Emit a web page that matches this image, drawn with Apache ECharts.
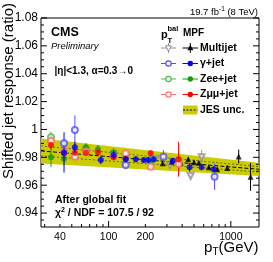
<!DOCTYPE html>
<html><head><meta charset="utf-8">
<script src="https://cdn.jsdelivr.net/npm/echarts@6/dist/echarts.min.js"></script>
<style>html,body{margin:0;padding:0;background:#fff}#c{width:273px;height:262px}</style>
</head><body><div id="c"></div>
<script>
// ---- axis ticks / labels ----
const xTickLabels = [40, 100, 200, 1000];
const xMajorTicks = [100, 1000];
const xMinorTicks = [30, 40, 50, 60, 70, 80, 90, 200, 300, 400, 500, 600, 700, 800, 900];
const yMajorTicks = [0.94, 0.96, 0.98, 1.00, 1.02, 1.04, 1.06, 1.08];
const yMinorTicks = [0.935, 0.945, 0.95, 0.955, 0.965, 0.97, 0.975, 0.985, 0.99, 0.995,
  1.005, 1.01, 1.015, 1.025, 1.03, 1.035, 1.045, 1.05, 1.055, 1.065, 1.07, 1.075];

// ---- JES uncertainty band ----
const jesPt = [28, 1700];
const jesCenter = [0.9846, 0.9714];
const jesHalf = [0.0090, 0.0048];

// ---- Multijet ----
const mjMpfPt  = [277, 328, 389, 448, 500, 548, 660, 774, 935, 1160, 1450];
const mjMpfVal = [0.9757, 0.9769, 0.9762, 0.9786, 0.9765, 0.9761, 0.9728, 0.9714, 0.9724, 0.9806, 0.9660];
const mjMpfErr = [0.0015, 0.0012, 0.0012, 0.0012, 0.0012, 0.0012, 0.0012, 0.0015, 0.0020, 0.0050, 0.0100];
const mjBalPt  = [240, 318, 469, 577];
const mjBalVal = [0.9790, 0.9745, 0.9666, 0.9801];
const mjBalErr = [0.0020, 0.0020, 0.0015, 0.0050];

// ---- gamma+jet ----
const gjMpfPt  = [43.2, 53, 86.5, 110, 138, 167, 194, 211, 234, 335, 460, 577, 722];
const gjMpfVal = [0.9835, 0.9872, 0.9781, 0.9817, 0.9786, 0.9786, 0.9781, 0.9781, 0.9786, 0.9776, 0.9728, 0.9728, 0.9714];
const gjMpfErr = [0.0145, 0.0040, 0.0030, 0.0030, 0.0020, 0.0020, 0.0020, 0.0020, 0.0020, 0.0020, 0.0030, 0.0020, 0.0020];
const gjBalPt  = [43.2, 53, 138, 281, 736];
const gjBalVal = [0.9901, 0.9996, 0.9745, 0.9805, 0.9661];
const gjBalErr = [0.0030, 0.0105, 0.0030, 0.0047, 0.0095];

// ---- Zee+jet ----
const zeeMpfPt  = [33.8, 43.2, 65.3, 81.8, 110, 221, 374];
const zeeMpfVal = [0.9800, 0.9790, 0.9872, 0.9858, 0.9835, 0.9769, 0.9760];
const zeeMpfErr = [0.0070, 0.0050, 0.0030, 0.0030, 0.0030, 0.0030, 0.0080];
const zeeBalPt  = [33.8, 53, 65.3, 110, 138, 221, 374];
const zeeBalVal = [0.9944, 0.9810, 0.9860, 0.9830, 0.9815, 0.9780, 0.9775];
const zeeBalErr = [0.0040, 0.0030, 0.0030, 0.0030, 0.0030, 0.0030, 0.0060];

// ---- Zmumu+jet ----
const zmmMpfPt  = [33.8, 43.2, 53, 65.3, 81.8, 110, 138, 221, 374];
const zmmMpfVal = [0.9888, 0.9829, 0.9833, 0.9833, 0.9835, 0.9800, 0.9790, 0.9829, 0.9786];
const zmmMpfErr = [0.0030, 0.0030, 0.0020, 0.0020, 0.0020, 0.0020, 0.0020, 0.0020, 0.0125];
const zmmBalPt  = [33.8, 43.2, 53, 65.3, 110, 138, 221, 374];
const zmmBalVal = [0.9919, 0.9840, 0.9805, 0.9840, 0.9810, 0.9829, 0.9733, 0.9752];
const zmmBalErr = [0.0030, 0.0030, 0.0020, 0.0020, 0.0020, 0.0020, 0.0020, 0.0040];

const FONT = '"Liberation Sans", Arial, Helvetica, sans-serif';
const chart = echarts.init(document.getElementById('c'), null, {renderer: 'canvas'});

function errSeries(pt, val, err, color, z) {
  return {
    type: 'custom', z: z, silent: true,
    data: pt.map((p, i) => [p, val[i], err[i]]),
    encode: {x: 0, y: 1},
    renderItem: (params, api) => {
      const a = api.coord([api.value(0), api.value(1) - api.value(2)]);
      const b = api.coord([api.value(0), api.value(1) + api.value(2)]);
      return {type: 'line', shape: {x1: a[0], y1: a[1], x2: b[0], y2: b[1]},
        style: {stroke: color, lineWidth: 1}};
    }
  };
}
function markSeries(pt, val, symbol, color, z, rot, size) {
  const open = symbol.indexOf('empty') === 0;
  return {
    type: 'scatter', z: z, silent: true,
    data: pt.map((p, i) => [p, val[i]]),
    symbol: symbol, symbolSize: size || 6, symbolRotate: rot || 0,
    itemStyle: open ? {color: color, borderColor: color, borderWidth: 1.2} : {color: color}
  };
}
function tickSeries(ticks, axis, len) {
  return {
    type: 'custom', z: 20, silent: true,
    data: ticks.map(t => axis === 'x' ? [t, 1.0] : [100, t]),
    encode: {x: 0, y: 1},
    renderItem: (params, api) => {
      const cs = params.coordSys;
      const p = api.coord([api.value(0), api.value(1)]);
      if (axis === 'x') {
        const yb = cs.y + cs.height;
        return {type: 'line', shape: {x1: p[0], y1: yb, x2: p[0], y2: yb - len}, style: {stroke: '#000', lineWidth: 1}};
      }
      const xl = cs.x, xr = cs.x + cs.width;
      return {type: 'group', children: [
        {type: 'line', shape: {x1: xl, y1: p[1], x2: xl + len, y2: p[1]}, style: {stroke: '#000', lineWidth: 1}},
        {type: 'line', shape: {x1: xr, y1: p[1], x2: xr - len, y2: p[1]}, style: {stroke: '#000', lineWidth: 1}}
      ]};
    }
  };
}
const xLabelSeries = {
  type: 'custom', z: 20, silent: true,
  data: xTickLabels.map(t => [t, 1.0]),
  encode: {x: 0, y: 1},
  renderItem: (params, api) => {
    const cs = params.coordSys;
    const p = api.coord([api.value(0), api.value(1)]);
    return {type: 'text', x: p[0], y: cs.y + cs.height + 10.5,
      style: {text: String(api.value(0)), font: '10.5px ' + FONT, fill: '#000',
        align: 'center', verticalAlign: 'middle', textAlign: 'center', textVerticalAlign: 'middle'}};
  }
};
const bandSeries = {
  type: 'custom', z: 1, silent: true,
  data: jesPt.map((p, i) => [p, jesCenter[i], jesHalf[i]]),
  encode: {x: 0, y: 1},
  renderItem: (params, api) => {
    if (params.dataIndex !== 0) return null;
    const up = [], dn = [], c = [], iu = [], id = [];
    for (let i = 0; i < jesPt.length; i++) {
      up.push(api.coord([jesPt[i], jesCenter[i] + jesHalf[i]]));
      dn.unshift(api.coord([jesPt[i], jesCenter[i] - jesHalf[i]]));
      c.push(api.coord([jesPt[i], jesCenter[i]]));
      iu.push(api.coord([jesPt[i], jesCenter[i] + 0.4 * jesHalf[i]]));
      id.push(api.coord([jesPt[i], jesCenter[i] - 0.4 * jesHalf[i]]));
    }
    return {type: 'group', children: [
      {type: 'polygon', shape: {points: up.concat(dn)}, style: {fill: '#cccc00'}},
      {type: 'polyline', shape: {points: iu}, style: {stroke: '#444', lineWidth: 0.8, lineDash: [2, 2], fill: null}},
      {type: 'polyline', shape: {points: id}, style: {stroke: '#444', lineWidth: 0.8, lineDash: [2, 2], fill: null}},
      {type: 'polyline', shape: {points: c}, style: {stroke: '#000', lineWidth: 1, lineDash: [4, 2], fill: null}}
    ]};
  }
};

const C = {
  mjBal: '#909090', mjMpf: '#000000',
  gjBal: '#5050ff', gjMpf: '#0000ff',
  zeeBal: '#50b850', zeeMpf: '#149a14',
  zmmBal: '#ff7070', zmmMpf: '#ff0000', band: '#cccc00'
};

function txt(text, x, y, font, align, extra) {
  return Object.assign({type: 'text', x: x, y: y, silent: true,
    style: {text: text, font: font, fill: '#000', textAlign: align || 'left', align: align || 'left',
      textVerticalAlign: 'middle', verticalAlign: 'middle'}}, extra || {});
}
function legLine(x1, x2, y, color, dash) {
  return {type: 'line', silent: true, shape: {x1: x1, y1: y, x2: x2, y2: y}, style: {stroke: color, lineWidth: 1, lineDash: dash || null}};
}
function legCircle(cx, cy, color, open) {
  return {type: 'circle', silent: true, shape: {cx: cx, cy: cy, r: 2.7},
    style: open ? {fill: '#fff', stroke: color, lineWidth: 1.2} : {fill: color}};
}
function legTri(cx, cy, color, down, open) {
  const s = down ? -1 : 1;
  return {type: 'polygon', silent: true, shape: {points: [[cx, cy - 3.2 * s], [cx - 3, cy + 2.2 * s], [cx + 3, cy + 2.2 * s]]},
    style: open ? {fill: '#fff', stroke: color, lineWidth: 1} : {fill: color}};
}

const legRows = [48, 63.5, 79, 94.5];
const legNames = ['Multijet', 'γ+jet', 'Zee+jet', 'Zμμ+jet'];
const legBal = [C.mjBal, C.gjBal, C.zeeBal, C.zmmBal];
const legMpf = [C.mjMpf, C.gjMpf, C.zeeMpf, C.zmmMpf];
const graphics = [];
legRows.forEach((y, i) => {
  graphics.push(legLine(161, 176, y, legBal[i]));
  graphics.push(legLine(182.5, 198, y, legMpf[i]));
  if (i === 0) {
    graphics.push(legLine(168.5, 168.5, y - 4, legBal[i])); graphics.push(legLine(168.5, 168.5, y + 4, legBal[i]));
    graphics.push({type:'line', silent:true, shape:{x1:168.5,y1:y-5,x2:168.5,y2:y+5}, style:{stroke:legBal[i],lineWidth:1}});
    graphics.push({type:'line', silent:true, shape:{x1:190.3,y1:y-5,x2:190.3,y2:y+5}, style:{stroke:legMpf[i],lineWidth:1}});
    graphics.push(legTri(168.5, y, legBal[i], true, true));
    graphics.push(legTri(190.3, y, legMpf[i], false, false));
  } else {
    graphics.push(legCircle(168.5, y, legBal[i], true));
    graphics.push(legCircle(190.3, y, legMpf[i], false));
  }
  graphics.push(txt(legNames[i], 200, y, 'bold 10.5px ' + FONT));
});
graphics.push({type: 'rect', silent: true, shape: {x: 183, y: 105.5, width: 14.5, height: 9}, style: {fill: C.band}});
graphics.push(legLine(183, 197.5, 110, '#000', [2, 1.5]));
graphics.push(txt('JES unc.', 200, 110, 'bold 10.5px ' + FONT));
// legend header
graphics.push(txt('p', 161, 35, 'bold 11px ' + FONT));
graphics.push(txt('bal', 167.5, 29, 'bold 7.5px ' + FONT));
graphics.push(txt('T', 167.5, 40.5, 'bold 7.5px ' + FONT));
graphics.push(txt('MPF', 183, 33, 'bold 10px ' + FONT));
// texts
graphics.push(txt('CMS', 51, 32.5, 'bold 12.5px ' + FONT));
graphics.push(txt('Preliminary', 51, 46, 'italic 9.5px ' + FONT));
graphics.push(txt('|η|<1.3, α=0.3→0', 54.5, 71, 'bold 10px ' + FONT));
graphics.push(txt('After global fit', 55, 200.5, 'bold 10.5px ' + FONT));
graphics.push({type: 'text', x: 55, y: 213.5, silent: true,
  style: {text: '{n|χ}{s|2}{n| / NDF = 107.5 / 92}', textVerticalAlign: 'middle', verticalAlign: 'middle',
    rich: {n: {font: 'bold 10.5px ' + FONT, fill: '#000', color: '#000'},
           s: {font: 'bold 7px ' + FONT, fill: '#000', color: '#000', padding: [0, 0, 6, 0]}}}});
// lumi
graphics.push({type: 'text', x: 258, y: 12, silent: true,
  style: {text: '{n|19.7 fb}{s|-1}{n| (8 TeV)}', textAlign: 'right', align: 'right', textVerticalAlign: 'middle', verticalAlign: 'middle',
    rich: {n: {font: '9.5px ' + FONT, fill: '#000', color: '#000'},
           s: {font: '6.5px ' + FONT, fill: '#000', color: '#000', padding: [0, 0, 6, 0]}}}});
// axis titles
graphics.push(txt('Shifted jet response (ratio)', 8.5, 3, '15px ' + FONT, 'right', {rotation: Math.PI / 2}));
graphics.push(txt('p', 204, 248, '15px ' + FONT));
graphics.push(txt('T', 212.5, 252.5, '10px ' + FONT));
graphics.push(txt('(GeV)', 258.5, 247.5, '15px ' + FONT, 'right'));

const option = {
  animation: false,
  backgroundColor: '#fff',
  grid: {left: 41, right: 14, top: 18, bottom: 35, show: true, borderColor: '#000', borderWidth: 1, backgroundColor: 'transparent'},
  xAxis: {type: 'log', logBase: 10, min: 28, max: 1700,
    axisLine: {show: false}, axisTick: {show: false}, axisLabel: {show: false}, splitLine: {show: false}},
  yAxis: {type: 'value', min: 0.93, max: 1.08, interval: 0.01,
    axisLine: {show: false}, axisTick: {show: false}, splitLine: {show: false},
    axisLabel: {margin: 3, fontSize: 12, fontFamily: FONT, color: '#000',
      formatter: v => { const k = Math.round(v * 100); if (k % 2 !== 0) return ''; return k === 100 ? '1' : (k / 100).toFixed(2); }}},
  graphic: graphics,
  series: [
    bandSeries,
    errSeries(mjBalPt, mjBalVal, mjBalErr, C.mjBal, 3), markSeries(mjBalPt, mjBalVal, 'emptyTriangle', C.mjBal, 4, 180, 6),
    errSeries(mjMpfPt, mjMpfVal, mjMpfErr, C.mjMpf, 3), markSeries(mjMpfPt, mjMpfVal, 'triangle', C.mjMpf, 4, 0, 6),
    errSeries(zeeBalPt, zeeBalVal, zeeBalErr, C.zeeBal, 5), markSeries(zeeBalPt, zeeBalVal, 'emptyCircle', C.zeeBal, 6),
    errSeries(zeeMpfPt, zeeMpfVal, zeeMpfErr, C.zeeMpf, 5), markSeries(zeeMpfPt, zeeMpfVal, 'circle', C.zeeMpf, 6),
    errSeries(zmmBalPt, zmmBalVal, zmmBalErr, C.zmmBal, 7), markSeries(zmmBalPt, zmmBalVal, 'emptyCircle', C.zmmBal, 8),
    errSeries(zmmMpfPt, zmmMpfVal, zmmMpfErr, C.zmmMpf, 7), markSeries(zmmMpfPt, zmmMpfVal, 'circle', C.zmmMpf, 8),
    errSeries(gjBalPt, gjBalVal, gjBalErr, C.gjBal, 9), markSeries(gjBalPt, gjBalVal, 'emptyCircle', C.gjBal, 10),
    errSeries(gjMpfPt, gjMpfVal, gjMpfErr, C.gjMpf, 9), markSeries(gjMpfPt, gjMpfVal, 'circle', C.gjMpf, 10),
    tickSeries(xMajorTicks, 'x', 6), tickSeries(xMinorTicks, 'x', 3),
    tickSeries(yMajorTicks, 'y', 6), tickSeries(yMinorTicks, 'y', 3),
    xLabelSeries
  ]
};
chart.setOption(option);
</script></body></html>
